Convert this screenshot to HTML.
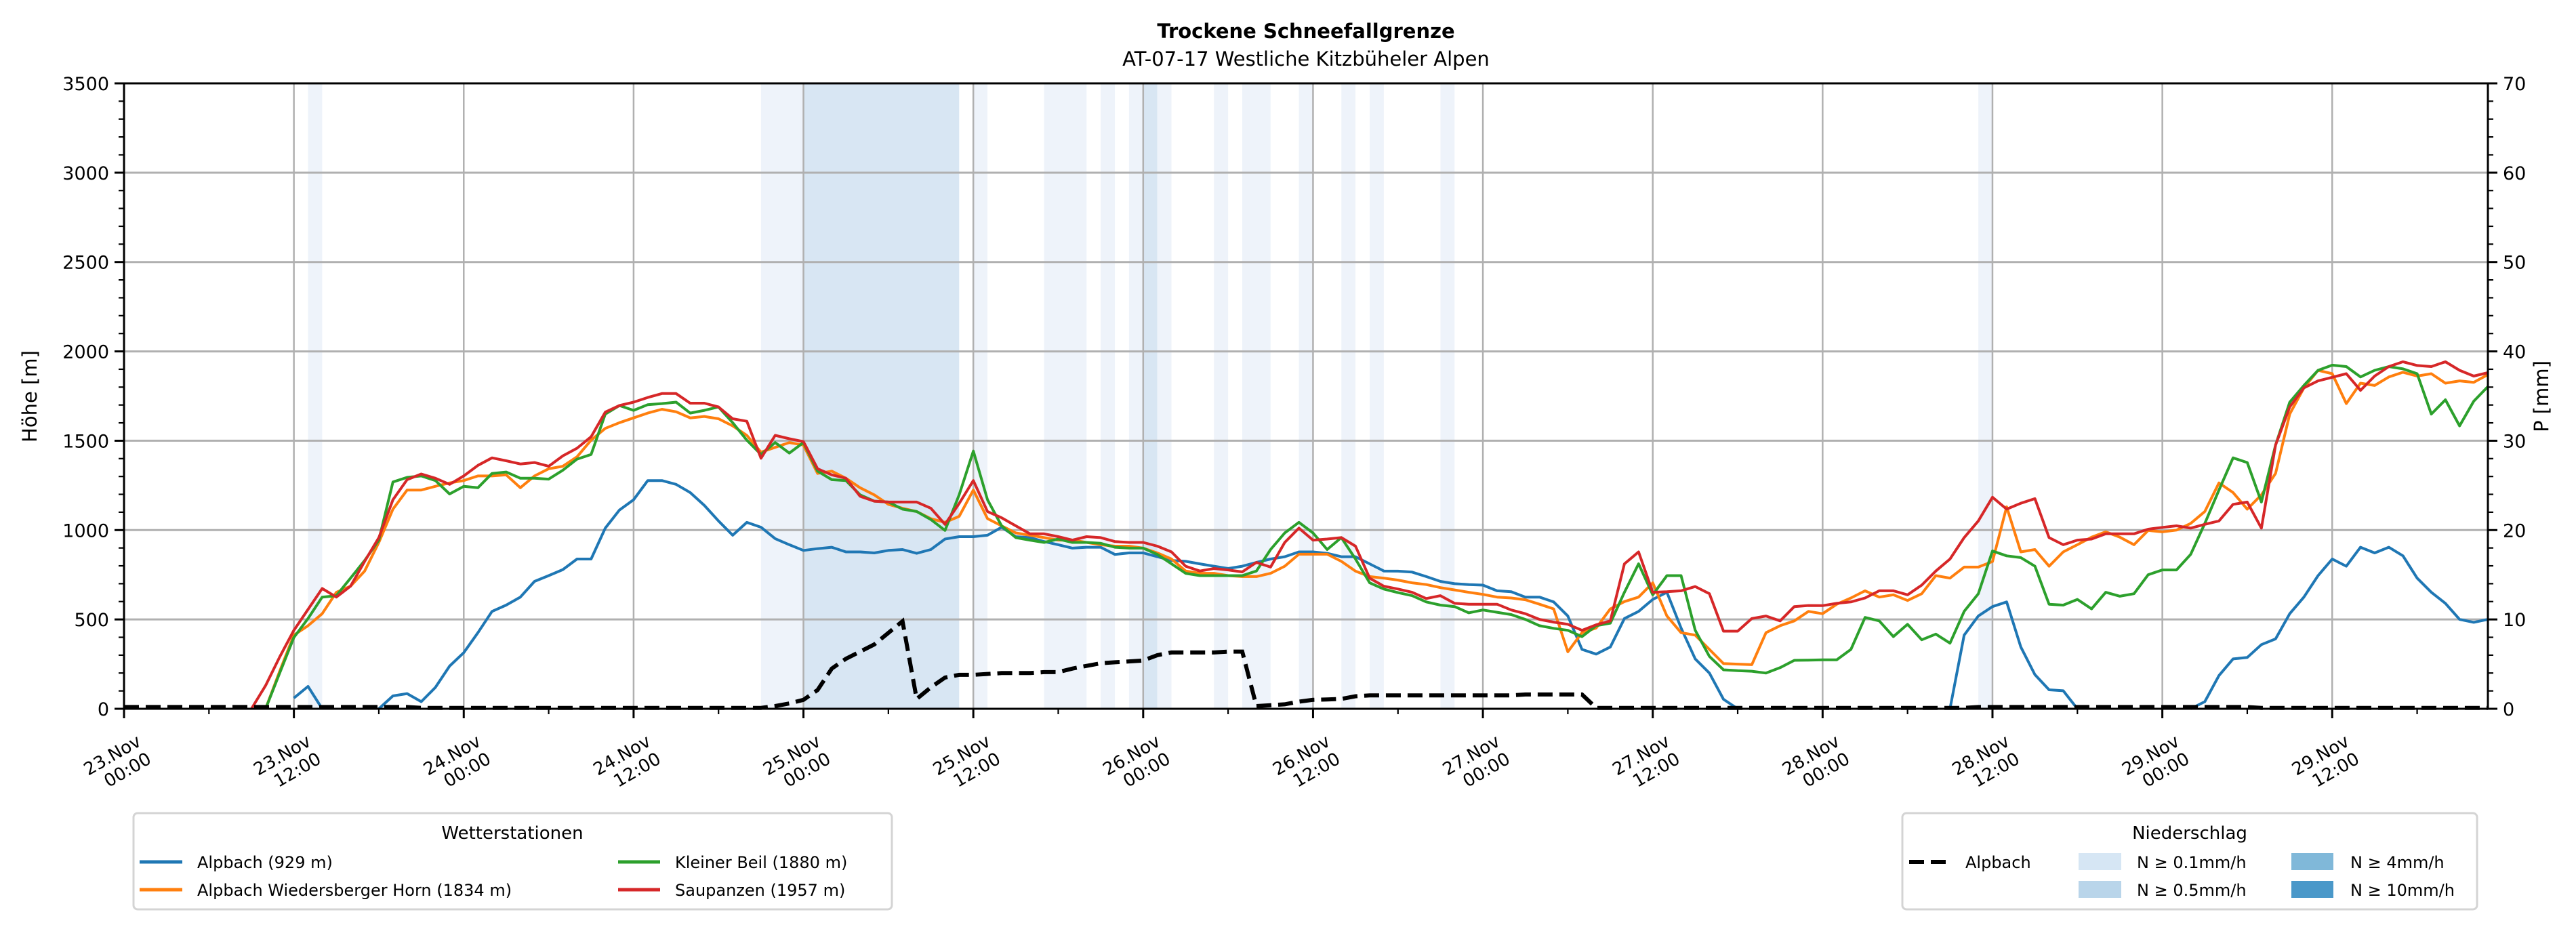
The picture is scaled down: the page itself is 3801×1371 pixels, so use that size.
<!DOCTYPE html>
<html><head><meta charset="utf-8"><style>
html,body{margin:0;padding:0;background:#fff;}
svg{display:block;font-family:"DejaVu Sans","Liberation Sans",sans-serif;}
</style></head><body>
<svg id="chart" width="3801" height="1371" viewBox="0 0 3801 1371" xmlns="http://www.w3.org/2000/svg">
<g id="bands"></g>
<g id="grid"></g>
<g id="series"></g>
<g id="axes"></g>
<text x="1927" y="56" text-anchor="middle" font-size="29" font-weight="bold">Trockene Schneefallgrenze</text>
<text x="1927" y="97" text-anchor="middle" font-size="29">AT-07-17 Westliche Kitzbüheler Alpen</text>
<text transform="translate(54,585) rotate(-90)" text-anchor="middle" font-size="29">Höhe [m]</text>
<text transform="translate(3760,585) rotate(-90)" text-anchor="middle" font-size="29">P [mm]</text>

<g>
<rect x="197" y="1200" width="1119" height="142" rx="6" fill="#fff" stroke="#d4d4d4" stroke-width="3"/>
<text x="756" y="1238" text-anchor="middle" font-size="26">Wetterstationen</text>
<g><line x1="206" y1="1272" x2="269" y2="1272" stroke="#1f77b4" stroke-width="5"/><text x="291" y="1281" font-size="24">Alpbach (929 m)</text></g>
<g><line x1="206" y1="1313" x2="269" y2="1313" stroke="#ff7f0e" stroke-width="5"/><text x="291" y="1322" font-size="24">Alpbach Wiedersberger Horn (1834 m)</text></g>
<g><line x1="912" y1="1272" x2="974" y2="1272" stroke="#2ca02c" stroke-width="5"/><text x="996" y="1281" font-size="24">Kleiner Beil (1880 m)</text></g>
<g><line x1="912" y1="1313" x2="974" y2="1313" stroke="#d62728" stroke-width="5"/><text x="996" y="1322" font-size="24">Saupanzen (1957 m)</text></g>
</g>

<g>
<rect x="2807" y="1200" width="848" height="142" rx="6" fill="#fff" stroke="#d4d4d4" stroke-width="3"/>
<text x="3231" y="1238" text-anchor="middle" font-size="26">Niederschlag</text>
<g><line x1="2817" y1="1272" x2="2873" y2="1272" stroke="#000" stroke-width="6" stroke-dasharray="22,10"/><text x="2900" y="1281" font-size="24">Alpbach</text></g>
<g><rect x="3067" y="1259" width="63" height="25" fill="#d6e6f4"/><text x="3153" y="1281" font-size="24">N ≥ 0.1mm/h</text></g>
<g><rect x="3067" y="1300" width="63" height="25" fill="#b9d5ea"/><text x="3153" y="1322" font-size="24">N ≥ 0.5mm/h</text></g>
<g><rect x="3381" y="1259" width="62" height="25" fill="#80b8d9"/><text x="3468" y="1281" font-size="24">N ≥ 4mm/h</text></g>
<g><rect x="3381" y="1300" width="62" height="25" fill="#4a98c9"/><text x="3468" y="1322" font-size="24">N ≥ 10mm/h</text></g>
</g>
</svg>
<script>
// hourly data starting 23.Nov 00:00 (index = hour)
const _ = null;
const alpbach = [
_,_,_,_,_,_,_,_,_,_,_,_,
60,125,0,_,_,_,0,72,85,40,120,239,
314,426,545,580,625,713,745,779,838,838,1011,1112,
1170,1277,1277,1256,1210,1138,1051,971,1043,1016,952,918,
886,896,904,878,878,872,886,891,870,891,950,963,
963,971,1016,963,958,936,918,899,904,904,864,872,
872,851,830,825,811,798,785,798,819,838,851,878,
878,870,851,851,811,771,770,765,740,713,700,695,
692,660,655,625,625,598,519,332,306,346,505,545,
612,652,452,279,200,53,0,_,_,_,_,_,
_,_,_,_,_,_,_,_,_,0,412,519,
572,598,346,191,106,101,0,_,_,_,_,_,
_,_,0,40,186,279,287,359,391,532,625,745,
838,798,904,872,904,856,731,652,590,500,484,500];
const wiedersberg = [
_,_,_,_,_,_,_,_,_,_,0,210,
412,465,532,652,686,771,931,1117,1224,1224,1245,1264,
1277,1303,1303,1309,1237,1303,1343,1357,1410,1503,1569,1601,
1628,1655,1676,1662,1628,1636,1623,1583,1530,1436,1463,1490,
1476,1317,1330,1290,1237,1197,1144,1122,1104,1064,1043,1077,
1224,1064,1024,984,971,958,944,944,931,918,910,910,
899,872,838,771,758,758,745,740,740,758,798,865,
865,865,825,770,740,731,720,705,695,678,665,652,
640,625,620,610,585,559,319,426,452,559,600,625,
705,519,426,412,332,253,250,247,426,465,492,545,
532,585,620,660,625,638,606,644,745,731,793,793,
824,1130,878,891,798,878,918,960,990,960,918,998,
990,1000,1037,1104,1264,1210,1117,1197,1317,1649,1796,1894,
1875,1708,1822,1809,1857,1883,1862,1875,1822,1835,1827,1870];
const kleinerBeil = [
_,_,_,_,_,_,_,_,_,_,0,200,
399,505,625,633,731,830,944,1269,1295,1303,1277,1202,
1245,1237,1317,1325,1290,1290,1285,1335,1397,1423,1649,1697,
1670,1702,1708,1716,1655,1670,1689,1601,1503,1423,1490,1431,
1490,1330,1282,1277,1197,1162,1157,1117,1104,1059,998,1197,
1442,1170,1024,958,944,931,950,931,931,926,904,899,
899,864,811,758,745,745,745,745,771,891,984,1043,
984,891,958,838,705,670,650,633,598,580,572,537,
553,540,527,500,465,450,439,404,465,479,652,811,
638,745,745,439,293,218,213,210,200,230,271,272,
274,274,332,511,492,404,473,386,418,367,545,644,
883,856,846,798,585,580,612,559,652,630,644,750,
777,777,864,1037,1224,1404,1378,1157,1476,1716,1809,1894,
1923,1915,1857,1894,1915,1902,1875,1649,1729,1583,1721,1803];
const saupanzen = [
_,_,_,_,_,_,_,_,_,0,130,290,
439,556,673,625,686,825,958,1170,1282,1314,1290,1256,
1303,1362,1404,1388,1370,1378,1357,1415,1458,1522,1660,1697,
1716,1742,1764,1764,1710,1710,1689,1623,1609,1402,1530,1511,
1495,1343,1309,1290,1189,1162,1157,1157,1157,1122,1032,1149,
1277,1104,1069,1024,979,979,963,944,963,958,936,931,
931,910,878,798,771,785,777,766,819,793,931,1011,
944,950,958,910,731,686,670,652,617,633,590,585,
585,585,553,532,500,485,473,439,470,492,811,878,
652,655,660,684,644,434,434,505,519,492,572,578,
577,590,598,620,660,660,638,692,771,838,958,1051,
1184,1117,1150,1176,958,918,944,950,979,979,979,1005,
1015,1024,1011,1032,1051,1144,1157,1011,1476,1689,1796,1835,
1855,1875,1782,1862,1915,1942,1921,1915,1942,1894,1862,1881];
const precipAlpbach = [
0.2,0.2,0.2,0.2,0.2,0.2,0.2,0.2,0.2,0.2,0.2,0.2,
0.2,0.2,0.2,0.2,0.2,0.2,0.2,0.2,0.2,0.1,0.1,0.1,
0.1,0.1,0.1,0.1,0.1,0.1,0.1,0.1,0.1,0.1,0.1,0.1,
0.1,0.1,0.1,0.1,0.1,0.1,0.1,0.1,0.1,0.1,0.3,0.6,
1.0,2.1,4.5,5.6,6.4,7.2,8.5,9.8,1.1,2.4,3.5,3.8,
3.8,3.9,4.0,4.0,4.0,4.1,4.1,4.5,4.8,5.1,5.2,5.3,
5.4,6.0,6.3,6.3,6.3,6.3,6.4,6.4,0.3,0.4,0.5,0.8,
1.0,1.05,1.1,1.4,1.5,1.5,1.5,1.5,1.5,1.5,1.5,1.5,
1.5,1.5,1.5,1.6,1.6,1.6,1.6,1.6,0.1,0.1,0.1,0.1,
0.1,0.1,0.1,0.1,0.1,0.1,0.1,0.1,0.1,0.1,0.1,0.1,
0.1,0.1,0.1,0.1,0.1,0.1,0.1,0.1,0.1,0.1,0.1,0.2,
0.2,0.2,0.2,0.2,0.2,0.2,0.2,0.2,0.2,0.2,0.2,0.2,
0.2,0.2,0.2,0.2,0.2,0.2,0.2,0.1,0.1,0.1,0.1,0.1,
0.1,0.1,0.1,0.1,0.1,0.1,0.1,0.1,0.1,0.1,0.1,0.1];
// precipitation intensity bands: start hour, end hour, level (1 light, 2 medium)
const bandStart = [13,45,48,60,65,69,71,72,73,77,79,83,86,88,93,131];
const bandEnd   = [14,48,59,61,68,70,72,73,74,78,81,84,87,89,94,132];
const bandLevel = [1,1,2,1,1,1,1,2,1,1,1,1,1,1,1,1];
const xTickLabels = ["23.Nov|00:00","23.Nov|12:00","24.Nov|00:00","24.Nov|12:00","25.Nov|00:00","25.Nov|12:00","26.Nov|00:00","26.Nov|12:00","27.Nov|00:00","27.Nov|12:00","28.Nov|00:00","28.Nov|12:00","29.Nov|00:00","29.Nov|12:00"];
const yTicks = [0,500,1000,1500,2000,2500,3000,3500];
const y2Ticks = [0,10,20,30,40,50,60,70];

const NS="http://www.w3.org/2000/svg";
const L=183,R=3671,T=123,B=1046,HMAX=167;
const xs=h=>L+h*(R-L)/HMAX;
const ys=v=>B-v*(B-T)/3500;
const yp=v=>B-v*(B-T)/70;
function mk(tag,attrs,parent){const e=document.createElementNS(NS,tag);for(const k in attrs)e.setAttribute(k,attrs[k]);parent.appendChild(e);return e;}

const gB=document.getElementById('bands');
bandStart.forEach((s,i)=>{
  const r=mk('rect',{x:xs(s),y:T,width:xs(bandEnd[i])-xs(s),height:B-T,fill:bandLevel[i]===2?'#d8e6f3':'#eef3fa'},gB);
  
  
});
const gG=document.getElementById('grid');
xTickLabels.forEach((t,i)=>{const x=xs(i*12);const l=mk('line',{x1:x,y1:T,x2:x,y2:B,stroke:'#b0b0b0','stroke-width':2.5},gG);
  
  });
yTicks.forEach(v=>{const y=ys(v);const l=mk('line',{x1:L,y1:y,x2:R,y2:y,stroke:'#b0b0b0','stroke-width':3},gG);
  
  });

const gS=document.getElementById('series');
function path(arr,fy){let d='',pen=false;arr.forEach((v,h)=>{if(v===null){pen=false;return;}d+=(pen?'L':'M')+xs(h).toFixed(1)+','+fy(v).toFixed(1);pen=true;});return d;}
const ser=[[alpbach,'#1f77b4','line-alpbach'],[wiedersberg,'#ff7f0e','line-wiedersberger-horn'],[kleinerBeil,'#2ca02c','line-kleiner-beil'],[saupanzen,'#d62728','line-saupanzen']];
ser.forEach(s=>{const p=mk('path',{d:path(s[0],ys),fill:'none',stroke:s[1],'stroke-width':4,'stroke-linejoin':'round'},gS);
  
  });
const pp=mk('path',{d:path(precipAlpbach,yp),fill:'none',stroke:'#000','stroke-width':6,'stroke-dasharray':'22,10'},gS);



const gA=document.getElementById('axes');
mk('rect',{x:L,y:T,width:R-L,height:B-T,fill:'none',stroke:'#000','stroke-width':3},gA);
for(let v=0;v<=3500;v+=100){const y=ys(v);const maj=v%500===0;
  mk('line',{x1:L-(maj?14:8),y1:y,x2:L,y2:y,stroke:'#000','stroke-width':maj?3:2.2},gA);
  mk('line',{x1:R,y1:y,x2:R+(maj?14:8),y2:y,stroke:'#000','stroke-width':maj?3:2.2},gA);}
yTicks.forEach(v=>{const t=mk('text',{x:L-22,y:ys(v)+10,'text-anchor':'end','font-size':27},gA);t.textContent=v;
  
  });
y2Ticks.forEach(v=>{const t=mk('text',{x:R+22,y:yp(v)+10,'font-size':27},gA);t.textContent=v;
  
  });
for(let h=0;h<=HMAX;h+=6){const x=xs(h);const maj=h%12===0;
  mk('line',{x1:x,y1:B,x2:x,y2:B+(maj?14:8),stroke:'#000','stroke-width':maj?3:2.2},gA);}
xTickLabels.forEach((lab,i)=>{const x=xs(i*12);const parts=lab.split('|');
  const g=mk('g',{transform:'translate('+(x+16)+',1080) rotate(-30)'},gA);
  
  
  const a=mk('text',{x:0,y:22,'text-anchor':'end','font-size':26},g);a.textContent=parts[0];
  const b=mk('text',{x:0,y:52,'text-anchor':'end','font-size':26},g);b.textContent=parts[1];});
</script>
</body></html>
